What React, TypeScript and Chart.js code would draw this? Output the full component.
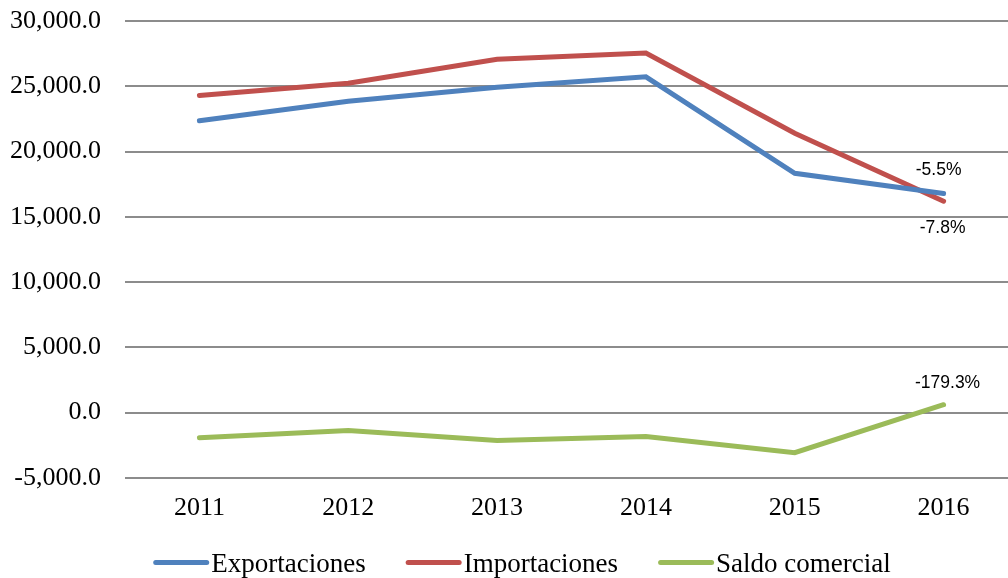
import React, { useEffect, useRef } from "react";
import { Chart, registerables } from "chart.js";

Chart.register(...registerables);

const years = ["2011", "2012", "2013", "2014", "2015", "2016"];
const exportaciones = [22350, 23850, 24920, 25720, 18330, 16780];
const importaciones = [24290, 25230, 27070, 27550, 21400, 16190];
const saldoComercial = [-1940, -1380, -2150, -1830, -3070, 600];
const exportLabels = ["", "", "", "", "", "-5.5%"];
const importLabels = ["", "", "", "", "", "-7.8%"];
const saldoLabels = ["", "", "", "", "", "-179.3%"];
const yTicks = [-5000, 0, 5000, 10000, 15000, 20000, 25000, 30000];

const SERIF = "'Liberation Serif', 'Times New Roman', serif";
const SANS = "'Liberation Sans', Arial, sans-serif";

const pointLabelsPlugin = {
  id: "pointLabels",
  afterDatasetsDraw(chart: any) {
    const ctx = chart.ctx;
    const sets = [
      { labels: exportLabels, dx: -5, dy: -23 },
      { labels: importLabels, dx: -1, dy: 27 },
      { labels: saldoLabels, dx: 4, dy: -22 },
    ];
    ctx.save();
    ctx.font = `17.5px ${SANS}`;
    ctx.fillStyle = "#000";
    ctx.textAlign = "center";
    ctx.textBaseline = "middle";
    sets.forEach((s, di) => {
      const meta = chart.getDatasetMeta(di);
      meta.data.forEach((pt: any, i: number) => {
        const t = s.labels[i];
        if (!t) return;
        ctx.fillText(t, pt.x + s.dx, pt.y + s.dy);
      });
    });
    ctx.restore();
  },
};

const customLegendPlugin = {
  id: "customLegend",
  afterDraw(chart: any) {
    const ctx = chart.ctx;
    const ds = chart.data.datasets;
    const lineW = 56;
    const gap = 2;
    const itemGap = 40;
    ctx.save();
    ctx.font = `27px ${SERIF}`;
    const widths = ds.map((d: any) => lineW + gap + ctx.measureText(d.label).width);
    const total = widths.reduce((a: number, b: number) => a + b, 0) + itemGap * (ds.length - 1);
    let x = (chart.width - total) / 2;
    const y = 562.5;
    ds.forEach((d: any, i: number) => {
      ctx.strokeStyle = d.borderColor;
      ctx.lineWidth = 5;
      ctx.lineCap = "round";
      ctx.beginPath();
      ctx.moveTo(x + 2.5, y);
      ctx.lineTo(x + lineW - 2.5, y);
      ctx.stroke();
      ctx.fillStyle = "#000";
      ctx.textAlign = "left";
      ctx.textBaseline = "alphabetic";
      ctx.fillText(d.label, x + lineW + gap, y + 9);
      x += widths[i] + itemGap;
    });
    ctx.restore();
  },
};

export default function App() {
  const ref = useRef<HTMLCanvasElement | null>(null);
  useEffect(() => {
    if (!ref.current) return;
    const lineCommon = {
      borderWidth: 5,
      pointRadius: 0,
      pointHoverRadius: 0,
      tension: 0,
      borderCapStyle: "round" as const,
      fill: false,
    };
    const chart = new Chart(ref.current, {
      type: "line",
      data: {
        labels: years,
        datasets: [
          { label: "Exportaciones", data: exportaciones, borderColor: "#4F81BD", backgroundColor: "#4F81BD", ...lineCommon },
          { label: "Importaciones", data: importaciones, borderColor: "#C0504D", backgroundColor: "#C0504D", ...lineCommon },
          { label: "Saldo comercial", data: saldoComercial, borderColor: "#9BBB59", backgroundColor: "#9BBB59", ...lineCommon },
        ],
      },
      options: {
        responsive: false,
        animation: false,
        layout: { padding: { top: 21, left: 9, right: 26, bottom: 39 } },
        plugins: {
          legend: { display: false },
          tooltip: { enabled: false },
        },
        scales: {
          x: {
            offset: true,
            grid: { display: false, drawTicks: false },
            border: { display: false },
            ticks: { color: "#000", font: { family: SERIF, size: 26 }, padding: 15, maxRotation: 0 },
          },
          y: {
            min: -5000,
            max: 30000,
            afterBuildTicks: (axis: any) => {
              axis.ticks = yTicks.map((v) => ({ value: v }));
            },
            afterFit: (axis: any) => {
              axis.width = 116;
              axis.paddingTop = 0;
              axis.paddingBottom = 0;
            },
            grid: { color: "#8c8c8c", lineWidth: 2, drawTicks: false },
            border: { display: false },
            ticks: {
              color: "#000",
              font: { family: SERIF, size: 26 },
              padding: 24,
              callback: (v: any) =>
                Number(v).toLocaleString("en-US", { minimumFractionDigits: 1, maximumFractionDigits: 1 }),
            },
          },
        },
      },
      plugins: [pointLabelsPlugin, customLegendPlugin],
    });
    return () => chart.destroy();
  }, []);
  return (
    <div style={{ position: "fixed", left: 0, top: 0, width: 1008, height: 578, overflow: "hidden", background: "#fff" }}>
      <canvas ref={ref} width={1044} height={578} style={{ display: "block", width: 1044, height: 578 }} />
    </div>
  );
}
